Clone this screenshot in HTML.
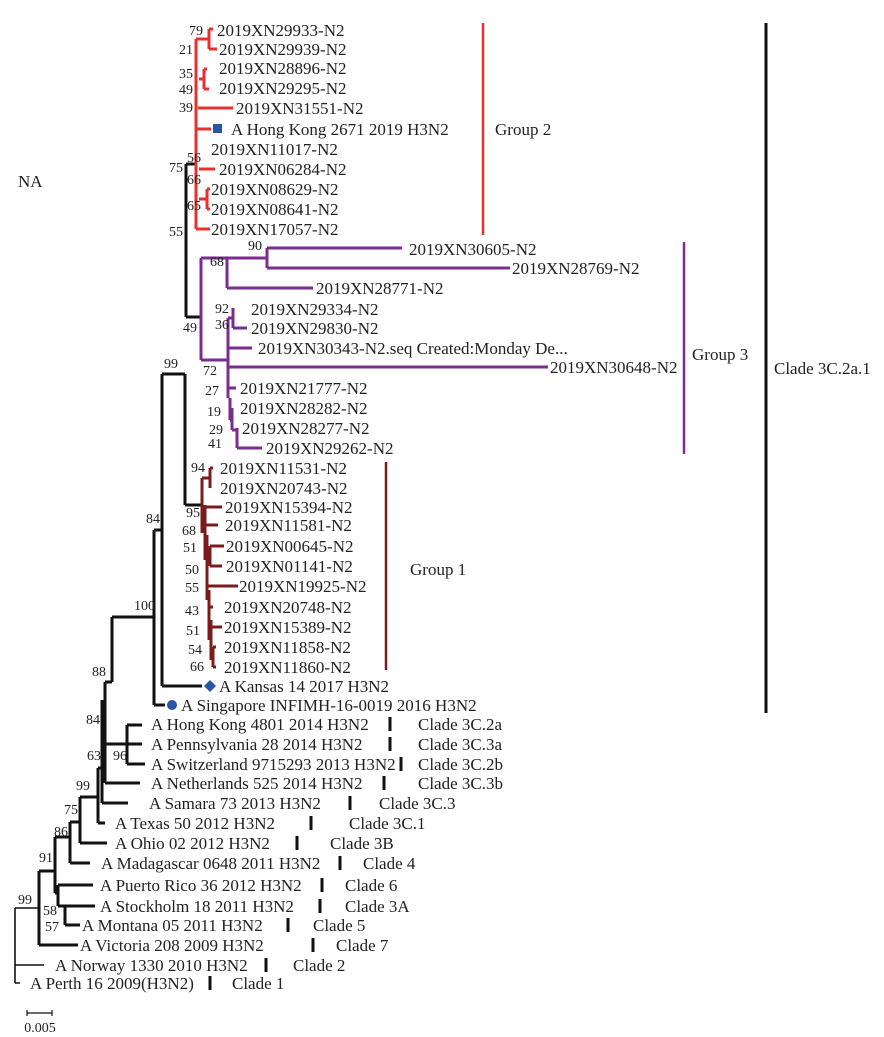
<!DOCTYPE html>
<html><head><meta charset="utf-8"><style>
html,body{margin:0;padding:0;background:#fff}
svg{display:block}
text{font-family:"Liberation Serif",serif;font-size:17px;fill:#222}
.bs{font-size:14px;text-anchor:end}
.k{stroke:#111;stroke-width:3;fill:none}
.t{stroke:#111;stroke-width:1.6;fill:none}
.r{stroke:#e8312f;stroke-width:3;fill:none}
.p{stroke:#7b2d8e;stroke-width:3;fill:none}
.d{stroke:#7a1c1c;stroke-width:3;fill:none}
</style></head><body>
<svg width="884" height="1037" viewBox="0 0 884 1037">
<text x="18" y="187">NA</text>

<g>
<path class="t" d="M15 983 H20 M15 908 V983 M15 965 H44 M15 908 H39"/>
<path class="k" d="M39 871 V945 M39 945 H78 M39 871 H55 M55 837 V893 M55 893 H58 M58 885 V906 M58 885 H93 M58 906 H65 M65 906 V925 M65 906 H95 M65 925 H80
M55 837 H70 M70 822 V863 M70 863 H90 M70 822 H80 M80 797 V843 M80 843 H107 M80 797 H98 M98 768 V823 M98 823 H105 M98 768 H102
M102 700 V803 M102 803 H128 M105 682 V783 M105 783 H140 M105 744 H127 M127 725 V764 M127 725 H142 M127 744 H142 M127 764 H145
M105 682 H112 M112 617 V682 M112 617 H154 M154 530 V705 M154 705 H165 M154 530 H162 M162 374 V686 M162 686 H202
M162 374 H185 M185 374 V505 M185 505 H202 M186 164 V317 M186 164 H195 M186 317 H201"/>
</g>

<g>
<path class="r" d="M196 39 V229 M196 39 H209 M209 29 V49 M209 29 H213 M209 49 H217 M199 79 H204 M204 69 V89 M204 69 H207 M204 89 H209
M198 108 H233 M196 129 H211 M199 169 H215 M199 199 H207 M207 189 V209 M207 189 H210 M207 209 H210 M196 229 H210"/>
<rect x="213" y="124" width="9" height="9" fill="#2855a8"/>
</g>

<g>
<path class="p" d="M201 258 V360 M201 258 H227 M227 258 V288 M227 258 H267 M267 248 V268 M267 248 H402 M267 268 H510 M227 288 H313
M201 360 H227 M228 318 V398 M228 318 H233 M233 308 V328 M233 328 H247 M228 348 H252 M228 367 H548 M228 388 H236 M230 398 V420 M230 420 H232 M232 408 V430 M232 430 H237 M237 428 V448 M237 448 H262"/>
</g>

<g>
<path class="d" d="M202 478 V533 M202 478 H210 M210 468 V488 M210 468 H213 M205 505 V560 M205 507 H222 M205 525 H218 M207 535 V600 M207 556 H210 M210 546 V566 M210 546 H224 M210 566 H222
M208 586 H238 M209 590 V640 M209 607 H213 M211 620 V660 M211 627 H222 M213 647 V667 M213 647 H216 M213 667 H216"/>
</g>

<path d="M210 680 L216 686 L210 692 L204 686 Z" fill="#2855a8"/>
<circle cx="172" cy="705" r="5" fill="#2855a8"/>

<g>
<text x="217" y="36">2019XN29933-N2</text>
<text x="219" y="55">2019XN29939-N2</text>
<text x="219" y="74">2019XN28896-N2</text>
<text x="219" y="94">2019XN29295-N2</text>
<text x="236" y="114">2019XN31551-N2</text>
<text x="231" y="135">A Hong Kong 2671 2019 H3N2</text>
<text x="211" y="155">2019XN11017-N2</text>
<text x="219" y="175">2019XN06284-N2</text>
<text x="211" y="195">2019XN08629-N2</text>
<text x="211" y="215">2019XN08641-N2</text>
<text x="211" y="235">2019XN17057-N2</text>
<text x="409" y="255">2019XN30605-N2</text>
<text x="512" y="274">2019XN28769-N2</text>
<text x="316" y="294">2019XN28771-N2</text>
<text x="251" y="315">2019XN29334-N2</text>
<text x="251" y="334">2019XN29830-N2</text>
<text x="258" y="354">2019XN30343-N2.seq Created:Monday De...</text>
<text x="550" y="373">2019XN30648-N2</text>
<text x="240" y="394">2019XN21777-N2</text>
<text x="240" y="414">2019XN28282-N2</text>
<text x="242" y="434">2019XN28277-N2</text>
<text x="266" y="454">2019XN29262-N2</text>
<text x="220" y="474">2019XN11531-N2</text>
<text x="220" y="494">2019XN20743-N2</text>
<text x="225" y="513">2019XN15394-N2</text>
<text x="225" y="531">2019XN11581-N2</text>
<text x="226" y="552">2019XN00645-N2</text>
<text x="226" y="572">2019XN01141-N2</text>
<text x="239" y="592">2019XN19925-N2</text>
<text x="224" y="613">2019XN20748-N2</text>
<text x="224" y="633">2019XN15389-N2</text>
<text x="224" y="653">2019XN11858-N2</text>
<text x="224" y="673">2019XN11860-N2</text>
<text x="219" y="692">A Kansas 14 2017 H3N2</text>
<text x="181" y="711">A Singapore INFIMH-16-0019 2016 H3N2</text>
<text x="151" y="730">A Hong Kong 4801 2014 H3N2</text>
<text x="151" y="750">A Pennsylvania 28 2014 H3N2</text>
<text x="151" y="770">A Switzerland 9715293 2013 H3N2</text>
<text x="151" y="789">A Netherlands 525 2014 H3N2</text>
<text x="149" y="809">A Samara 73 2013 H3N2</text>
<text x="115" y="829">A Texas 50 2012 H3N2</text>
<text x="115" y="849">A Ohio 02 2012 H3N2</text>
<text x="101" y="869">A Madagascar 0648 2011 H3N2</text>
<text x="100" y="891">A Puerto Rico 36 2012 H3N2</text>
<text x="100" y="912">A Stockholm 18 2011 H3N2</text>
<text x="82" y="931">A Montana 05 2011 H3N2</text>
<text x="80" y="951">A Victoria 208 2009 H3N2</text>
<text x="55" y="971">A Norway 1330 2010 H3N2</text>
<text x="30" y="989">A Perth 16 2009(H3N2)</text>
</g>

<g>
<text class="bs" x="203" y="35">79</text><text class="bs" x="193" y="54">21</text>
<text class="bs" x="193" y="78">35</text><text class="bs" x="193" y="94">49</text>
<text class="bs" x="193" y="112">39</text><text class="bs" x="201" y="162">56</text>
<text class="bs" x="183" y="172">75</text><text class="bs" x="201" y="184">66</text>
<text class="bs" x="201" y="210">65</text><text class="bs" x="183" y="236">55</text>
<text class="bs" x="262" y="250">90</text><text class="bs" x="224" y="266">68</text>
<text class="bs" x="229" y="313">92</text><text class="bs" x="229" y="329">36</text>
<text class="bs" x="197" y="332">49</text><text class="bs" x="217" y="375">72</text>
<text class="bs" x="219" y="395">27</text><text class="bs" x="221" y="416">19</text>
<text class="bs" x="223" y="434">29</text><text class="bs" x="222" y="448">41</text>
<text class="bs" x="178" y="368">99</text>
<text class="bs" x="205" y="472">94</text><text class="bs" x="200" y="517">95</text>
<text class="bs" x="196" y="535">68</text><text class="bs" x="197" y="552">51</text>
<text class="bs" x="199" y="574">50</text><text class="bs" x="199" y="592">55</text>
<text class="bs" x="199" y="615">43</text><text class="bs" x="200" y="635">51</text>
<text class="bs" x="202" y="654">54</text><text class="bs" x="204" y="671">66</text>
<text class="bs" x="160" y="523">84</text><text class="bs" x="155" y="610">100</text>
<text class="bs" x="106" y="676">88</text><text class="bs" x="100" y="724">84</text>
<text class="bs" x="101" y="760">63</text><text class="bs" x="127" y="760">96</text>
<text class="bs" x="90" y="790">99</text><text class="bs" x="78" y="814">75</text>
<text class="bs" x="68" y="836">86</text><text class="bs" x="53" y="862">91</text>
<text class="bs" x="57" y="915">58</text><text class="bs" x="59" y="931">57</text>
<text class="bs" x="32" y="904">99</text>
</g>

<g>
<line x1="483" y1="23" x2="483" y2="235" stroke="#e8312f" stroke-width="2.5"/>
<text x="495" y="135">Group 2</text>
<line x1="684" y1="242" x2="684" y2="454" stroke="#7b2d8e" stroke-width="2.5"/>
<text x="692" y="360">Group 3</text>
<line x1="386" y1="462" x2="386" y2="670" stroke="#7a1c1c" stroke-width="2.5"/>
<text x="410" y="575">Group 1</text>
<line x1="766" y1="23" x2="766" y2="713" stroke="#111" stroke-width="3"/>
<text x="774" y="374">Clade 3C.2a.1</text>
</g>

<g stroke="#111" stroke-width="3">
<line x1="390" y1="717" x2="390" y2="731"/><text x="418" y="730" stroke="none">Clade 3C.2a</text>
<line x1="390" y1="737" x2="390" y2="751"/><text x="418" y="750" stroke="none">Clade 3C.3a</text>
<line x1="401" y1="757" x2="401" y2="771"/><text x="418" y="770" stroke="none">Clade 3C.2b</text>
<line x1="384" y1="776" x2="384" y2="790"/><text x="418" y="789" stroke="none">Clade 3C.3b</text>
<line x1="350" y1="796" x2="350" y2="810"/><text x="379" y="809" stroke="none">Clade 3C.3</text>
<line x1="311" y1="816" x2="311" y2="830"/><text x="349" y="829" stroke="none">Clade 3C.1</text>
<line x1="297" y1="836" x2="297" y2="850"/><text x="330" y="849" stroke="none">Clade 3B</text>
<line x1="340" y1="856" x2="340" y2="870"/><text x="363" y="869" stroke="none">Clade 4</text>
<line x1="322" y1="878" x2="322" y2="892"/><text x="345" y="891" stroke="none">Clade 6</text>
<line x1="320" y1="899" x2="320" y2="913"/><text x="345" y="912" stroke="none">Clade 3A</text>
<line x1="288" y1="918" x2="288" y2="932"/><text x="313" y="931" stroke="none">Clade 5</text>
<line x1="313" y1="938" x2="313" y2="952"/><text x="336" y="951" stroke="none">Clade 7</text>
<line x1="266" y1="958" x2="266" y2="972"/><text x="293" y="971" stroke="none">Clade 2</text>
<line x1="210" y1="976" x2="210" y2="990"/><text x="232" y="989" stroke="none">Clade 1</text>
</g>

<g>
<path d="M27 1013 H52 M27 1010 V1016 M52 1010 V1016" stroke="#111" stroke-width="1.2" fill="none"/>
<text x="40" y="1032" text-anchor="middle" style="font-size:14px">0.005</text>
</g>
</svg>
</body></html>
